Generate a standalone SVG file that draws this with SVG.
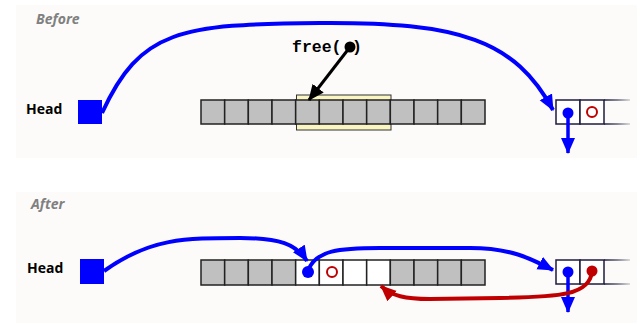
<svg xmlns="http://www.w3.org/2000/svg" width="637" height="323" viewBox="0 0 637 323">
  <style>
    .panel { fill: #fcfbfa; }
    .title { font-family: "Open Sans", "Liberation Sans", sans-serif; font-weight: bold; font-style: italic; font-size: 14px; fill: #808080; }
    .head { font-family: "Open Sans", "Liberation Sans", sans-serif; font-weight: bold; font-size: 14px; fill: #000; }
    .code { font-family: "Liberation Mono", "DejaVu Sans Mono", monospace; font-weight: bold; font-size: 16.5px; fill: #000; }
    .used { fill: #c0c0c0; stroke: #222; stroke-width: 1.5; }
    .freed { fill: #ffffff; stroke: #222; stroke-width: 1.5; }
    .blk { fill: #ffffff; stroke: #1c1c3c; stroke-width: 1.5; }
    .headsq { fill: #0000ff; }
    .blue { fill: none; stroke: #0000ff; stroke-width: 4; }
    .red { fill: none; stroke: #c00000; stroke-width: 4; }
    .blk-open { stroke: url(#fade); stroke-width: 1.5; fill: none; }
  </style>
  <defs>
    <linearGradient id="fade" gradientUnits="userSpaceOnUse" x1="604" y1="0" x2="630" y2="0">
      <stop offset="0" stop-color="#1c1c3c"/>
      <stop offset="0.5" stop-color="#1c1c3c" stop-opacity="0.7"/>
      <stop offset="1" stop-color="#1c1c3c" stop-opacity="0.2"/>
    </linearGradient>
    <marker id="arrBlue" markerUnits="userSpaceOnUse" markerWidth="18" markerHeight="16" refX="15" refY="7" orient="auto">
      <path d="M0,0 L16,7 L0,14 Z" fill="#0000ff"/>
    </marker>
    <marker id="arrRed" markerUnits="userSpaceOnUse" markerWidth="18" markerHeight="16" refX="15" refY="7" orient="auto">
      <path d="M0,0 L16,7 L0,14 Z" fill="#c00000"/>
    </marker>
    <marker id="arrBlack" markerUnits="userSpaceOnUse" markerWidth="18" markerHeight="16" refX="15" refY="7" orient="auto">
      <path d="M0,0 L16,7 L0,14 Z" fill="#000"/>
    </marker>
  </defs>

  <!-- panels -->
  <rect class="panel" x="16" y="5" width="621" height="153"/>
  <rect class="panel" x="16" y="192" width="621" height="131"/>

  <!-- ===== Before ===== -->
  <text class="title" x="36" y="24">Before</text>

  <g id="head-before">
    <text class="head" x="26" y="114">Head</text>
    <rect class="headsq" x="78" y="100" width="24" height="24"/>
  </g>

  <g id="heap-before">
    <!-- block being freed, highlighted -->
    <rect x="296.5" y="95" width="94.5" height="35" fill="#faf6c2" stroke="#333" stroke-width="1"/>
    <rect class="used" x="201" y="100" width="23.67" height="24"/>
    <rect class="used" x="224.67" y="100" width="23.67" height="24"/>
    <rect class="used" x="248.33" y="100" width="23.67" height="24"/>
    <rect class="used" x="272" y="100" width="23.67" height="24"/>
    <rect class="used" x="295.67" y="100" width="23.67" height="24"/>
    <rect class="used" x="319.33" y="100" width="23.67" height="24"/>
    <rect class="used" x="343" y="100" width="23.67" height="24"/>
    <rect class="used" x="366.67" y="100" width="23.67" height="24"/>
    <rect class="used" x="390.33" y="100" width="23.67" height="24"/>
    <rect class="used" x="414" y="100" width="23.67" height="24"/>
    <rect class="used" x="437.67" y="100" width="23.67" height="24"/>
    <rect class="used" x="461.33" y="100" width="23.67" height="24"/>
  </g>

  <g id="free-call">
    <text class="code" x="292" y="52">free(</text>
    <text class="code" x="352" y="52">)</text>
    <circle cx="350" cy="47" r="5.5" fill="#000"/>
  </g>

  <g id="list-block-before">
    <rect class="blk" x="556" y="100" width="24" height="24"/>
    <rect class="blk" x="580" y="100" width="24" height="24"/>
    <path class="blk-open" d="M604,100 H630 M604,124 H630"/>
    <circle cx="568" cy="113" r="5.5" fill="#0000ff"/>
    <circle cx="592" cy="112" r="5" fill="none" stroke="#c00000" stroke-width="2"/>
  </g>

  <g id="connectors-before">
    <path class="blue" d="M102,113 C140,30 180,24 320,23 C460,22 515,40 553,110" marker-end="url(#arrBlue)"/>
    <line x1="350" y1="47" x2="309" y2="100" stroke="#000" stroke-width="3" marker-end="url(#arrBlack)"/>
    <line x1="568" y1="113" x2="568" y2="153" stroke="#0000ff" stroke-width="3.5" marker-end="url(#arrBlue)"/>
  </g>

  <!-- ===== After ===== -->
  <text class="title" x="31" y="209">After</text>

  <g id="head-after">
    <text class="head" x="27" y="273">Head</text>
    <rect class="headsq" x="80" y="259" width="24" height="25"/>
  </g>

  <g id="heap-after">
    <rect class="used" x="201" y="260" width="23.67" height="25"/>
    <rect class="used" x="224.67" y="260" width="23.67" height="25"/>
    <rect class="used" x="248.33" y="260" width="23.67" height="25"/>
    <rect class="used" x="272" y="260" width="23.67" height="25"/>
    <rect class="freed" x="295.67" y="260" width="23.67" height="25"/>
    <rect class="freed" x="319.33" y="260" width="23.67" height="25"/>
    <rect class="freed" x="343" y="260" width="23.67" height="25"/>
    <rect class="freed" x="366.67" y="260" width="23.67" height="25"/>
    <rect class="used" x="390.33" y="260" width="23.67" height="25"/>
    <rect class="used" x="414" y="260" width="23.67" height="25"/>
    <rect class="used" x="437.67" y="260" width="23.67" height="25"/>
    <rect class="used" x="461.33" y="260" width="23.67" height="25"/>
    <circle cx="308" cy="272" r="6" fill="#0000ff"/>
    <circle cx="332" cy="272" r="5" fill="none" stroke="#c00000" stroke-width="2"/>
  </g>

  <g id="list-block-after">
    <rect class="blk" x="556" y="260" width="24" height="24"/>
    <rect class="blk" x="580" y="260" width="24" height="24"/>
    <path class="blk-open" d="M604,260 H630 M604,284 H630"/>
    <circle cx="568" cy="272" r="5.5" fill="#0000ff"/>
    <circle cx="592" cy="271" r="5.5" fill="#c00000"/>
  </g>

  <g id="connectors-after">
    <path class="blue" d="M104,271 C150,238 185,238 240,238 C280,238 296,244 307,261" marker-end="url(#arrBlue)"/>
    <path class="blue" d="M308,271 C315,250 340,248 380,248 L470,248 C510,248 530,258 553,270" marker-end="url(#arrBlue)"/>
    <line x1="568" y1="272" x2="568" y2="312" stroke="#0000ff" stroke-width="3.5" marker-end="url(#arrBlue)"/>
    <path class="red" d="M592,271 C590,295 560,297 500,298 L430,299 C405,299 392,296 381,286" marker-end="url(#arrRed)"/>
  </g>
</svg>
